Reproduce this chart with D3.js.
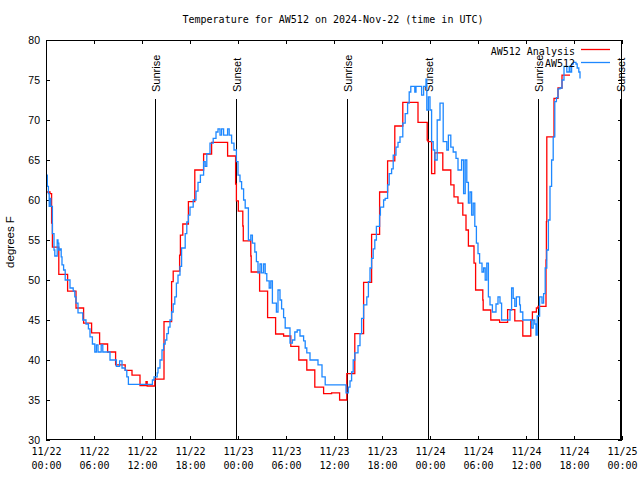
<!DOCTYPE html>
<html>
<head>
<meta charset="utf-8">
<script src="https://cdn.jsdelivr.net/npm/d3@7"></script>
<style>
  html, body { margin: 0; padding: 0; background: #fff; }
  svg { display: block; }
</style>
</head>
<body>
<svg id="chart" width="640" height="480"></svg>
<script>
// ---------- data (hours after 2024-11-22 00:00 UTC, degrees F) ----------
const titleText = "Temperature for AW512 on 2024-Nov-22 (time in UTC)";
const yLabel = "degrees F";
const seriesNames = ["AW512 Analysis", "AW512"];
const yTicks = [30, 35, 40, 45, 50, 55, 60, 65, 70, 75, 80];

const analysisHours = [0,0.5,0.7,0.8,1.6,2.7,3.75,4.7,5.7,6.7,7.7,8.7,9.9,10.75,11.75,12.5,12.65,13.6,14.75,15.7,15.9,16.7,16.8,17.1,17.8,18.6,19.7,20.7,22.7,23.7,23.8,24.04,24.6,24.66,25.6,25.65,26.7,27.7,28.7,29.7,30.6,31.6,32.6,33.6,34.7,35.7,36.7,37.6,38.6,39.7,40.7,41.7,42.7,43.6,44.6,46.5,47.65,47.75,48.2,48.6,49.6,50.6,51.0,51.5,52.1,52.5,52.8,53.5,53.7,54.6,54.65,55.6,56.7,57.7,58.6,59.6,60.6,60.8,61.3,61.5,62.5,62.55,62.6,63.5,64.0,64.5,65.5];
const analysisTemps = [61.0,60.8,57.1,54.1,50.7,48.6,46.5,44.6,43.4,42.0,41.0,39.4,38.7,38.1,36.8,37.3,36.75,37.6,44.8,49.8,51.1,53.1,55.6,57.0,59.8,63.75,65.75,67.2,65.5,62.0,59.9,58.6,56.75,54.9,53.0,51.0,48.6,45.3,43.25,43.0,41.7,40.0,38.75,36.6,35.8,35.9,35.0,38.3,43.3,49.7,55.7,61.0,64.9,69.25,72.2,69.7,67.5,67.3,63.3,65.9,63.75,61.9,60.4,59.6,58.1,56.25,54.25,52.1,48.75,47.5,46.25,45.0,44.7,46.3,44.9,43.0,45.0,46.0,46.5,46.7,52.5,57.3,67.9,72.7,74.0,75.6,75.6];

const stationHours = [0,0.17,0.3,0.4,0.5,0.6,0.8,1.0,1.1,1.4,1.5,1.6,1.75,1.9,2.0,2.2,2.4,3.0,3.4,3.6,3.75,4.0,4.6,5.0,5.3,5.5,5.8,6.1,6.3,6.5,6.9,7.1,8.0,8.8,9.2,9.5,9.9,10.1,10.3,13.3,13.5,13.9,14.0,14.25,14.5,14.7,14.9,15.1,15.3,15.5,15.7,15.9,16.1,16.3,16.5,16.75,16.95,17.4,17.6,17.8,18.0,18.4,18.75,19.0,19.3,19.7,19.9,20.1,20.5,20.9,21.25,21.5,21.75,21.95,22.2,22.7,22.9,23.2,23.5,23.8,24.0,24.25,24.45,24.7,24.9,25.3,25.6,25.8,26.1,26.3,26.5,26.75,26.95,27.2,27.4,27.6,27.9,28.1,28.3,28.8,29.0,29.25,29.45,29.7,29.9,30.5,30.8,31.1,31.4,31.75,32.2,32.4,32.6,33.0,34.0,34.5,34.9,37.5,37.8,38.0,38.2,38.4,38.6,39.0,39.25,39.45,39.7,40.1,40.3,40.5,40.7,40.9,41.1,41.3,41.7,41.8,42.2,42.4,42.7,42.9,43.2,43.4,43.75,44.0,44.25,44.6,44.9,45.2,45.4,45.6,46.1,46.25,46.95,47.2,47.5,47.6,47.8,48.0,48.2,48.4,48.6,48.9,49.25,49.65,50.1,50.3,50.6,50.9,51.25,51.5,51.95,52.2,52.4,52.6,52.8,53.0,53.2,53.4,53.6,53.8,54.0,54.2,54.5,54.7,54.9,55.1,55.3,55.5,55.8,56.25,56.5,56.75,56.95,58.0,58.2,58.4,58.6,58.8,59.2,59.3,59.6,60.7,60.9,61.1,61.25,61.4,61.7,62.0,62.2,62.4,62.6,62.8,63.0,63.2,63.4,63.6,63.8,64.0,64.25,64.5,64.75,65.1,65.4,65.5,65.7,65.9,66.25,66.4,66.6,66.75];
const stationTemps = [63.1,61.7,60.8,59.2,60.2,59.2,55.8,53.75,53.0,55.0,54.6,53.75,53.9,52.9,51.9,51.25,50.0,49.0,48.6,47.9,47.1,45.9,45.0,44.5,43.9,42.9,42.0,41.0,41.9,41.0,41.9,41.0,40.0,39.2,39.9,39.0,38.7,37.9,36.95,37.5,37.9,38.4,39.0,40.0,41.25,42.0,42.5,43.3,44.1,45.0,46.0,47.0,47.9,49.6,50.6,51.7,54.0,55.8,57.25,58.1,59.1,60.0,61.1,62.2,63.1,64.8,64.2,65.8,67.1,67.7,68.5,68.9,68.1,68.9,68.1,68.9,68.1,67.1,66.25,64.8,63.1,62.3,61.4,60.0,59.0,55.0,55.6,54.6,53.5,52.3,50.9,52.0,50.9,52.0,50.8,49.9,49.0,49.9,47.1,46.0,48.75,47.5,46.4,45.3,44.0,42.1,42.5,43.5,43.75,43.0,42.4,41.5,40.9,40.0,39.4,37.9,36.9,35.9,36.6,37.4,38.5,40.0,40.9,41.8,43.3,45.2,46.9,47.9,49.8,51.5,52.7,53.9,55.0,56.7,58.1,59.1,60.0,60.2,61.9,63.3,63.9,65.6,66.6,67.2,67.9,69.6,70.8,72.1,73.5,74.2,73.5,74.2,73.1,74.2,75.1,71.25,72.9,71.25,67.3,66.25,65.0,70.0,72.1,67.3,66.25,68.1,66.6,66.0,65.2,63.75,65.0,60.8,65.0,62.2,59.6,61.0,58.1,59.6,56.7,54.6,53.3,52.1,51.0,51.5,50.0,52.1,47.9,46.9,46.0,47.0,47.9,47.1,45.0,46.25,49.0,47.7,46.7,47.9,46.9,46.0,45.0,44.0,45.0,44.5,43.1,45.5,47.9,47.1,48.3,51.5,53.75,57.5,61.7,65.0,67.9,72.3,72.8,73.9,74.0,75.0,76.7,76.0,76.7,76.0,77.0,77.2,77.0,76.5,76.0,75.2];

const eventLabels = ["Sunrise", "Sunset", "Sunrise", "Sunset", "Sunrise", "Sunset"];
const eventHours = [13.62, 23.75, 37.62, 47.75, 61.5, 71.75];

// ---------- layout ----------
const svg = d3.select("#chart");
const M = { left: 46, right: 622, top: 40, bottom: 440 };
const t0 = Date.UTC(2024, 10, 22, 0, 0);
const toDate = h => new Date(t0 + h * 3600e3);

const x = d3.scaleUtc().domain([toDate(0), toDate(72)]).range([M.left, M.right]);
const y = d3.scaleLinear().domain([30, 80]).range([M.bottom, M.top]);

const mono = "'DejaVu Sans Mono', monospace";
const sans = "'Liberation Sans', Arial, sans-serif";

// title
svg.append("text").attr("x", 333).attr("y", 23).attr("text-anchor", "middle")
  .style("font-family", mono).style("font-size", "10px").text(titleText);

// y label
svg.append("text").attr("transform", "translate(14,242) rotate(-90)")
  .attr("text-anchor", "middle").style("font-family", sans).style("font-size", "11.5px").text(yLabel);

// axes
const xTicks = d3.utcHour.every(6).range(toDate(0), toDate(72.01));
const gx = svg.append("g").attr("transform", `translate(0,${M.bottom})`)
  .call(d3.axisBottom(x).tickValues(xTicks).tickSizeInner(-4).tickSizeOuter(0).tickPadding(15)
    .tickFormat(() => ""));
gx.select(".domain").remove();
gx.selectAll(".tick text").each(function(d) {
  const t = d3.select(this).style("font-family", mono).style("font-size", "10px").attr("fill", "#000");
  t.append("tspan").attr("x", 0).attr("dy", "0").text(d3.utcFormat("%m/%d")(d));
  t.append("tspan").attr("x", 0).attr("dy", "14").text(d3.utcFormat("%H:%M")(d));
});
const gxt = svg.append("g").attr("transform", `translate(0,${M.top})`)
  .call(d3.axisTop(x).tickValues(xTicks).tickSizeInner(-4).tickSizeOuter(0).tickFormat(""));
gxt.select(".domain").remove();

const gy = svg.append("g").attr("transform", `translate(${M.left},0)`)
  .call(d3.axisLeft(y).tickValues(yTicks).tickSizeInner(-4).tickSizeOuter(0).tickPadding(6).tickFormat(d3.format("d")));
gy.select(".domain").remove();
gy.selectAll(".tick text").style("font-family", sans).style("font-size", "10.5px").attr("fill", "#000");
const gyr = svg.append("g").attr("transform", `translate(${M.right},0)`)
  .call(d3.axisRight(y).tickValues(yTicks).tickSizeInner(-4).tickSizeOuter(0).tickFormat(""));
gyr.select(".domain").remove();
svg.selectAll(".tick line").attr("stroke", "#000");

// sunrise / sunset lines
const ev = svg.append("g");
eventHours.forEach((h, i) => {
  const xx = Math.round(x(toDate(h))) + 0.5;
  ev.append("line").attr("x1", xx).attr("x2", xx).attr("y1", 99).attr("y2", M.bottom)
    .attr("stroke", "#000").attr("stroke-width", 1);
  ev.append("text").attr("transform", `translate(${xx + 4},92) rotate(-90)`)
    .attr("text-anchor", "start").style("font-family", sans).style("font-size", "11px").text(eventLabels[i]);
});

// series
const line = d3.line().x(d => x(toDate(d[0]))).y(d => y(d[1])).curve(d3.curveStepAfter);
const red = d3.zip(analysisHours, analysisTemps);
const blue = d3.zip(stationHours, stationTemps);
svg.append("path").datum(red).attr("d", line).attr("fill", "none").attr("stroke", "#ff0000").attr("stroke-width", 1.3);
svg.append("path").datum(blue).attr("d", line).attr("fill", "none").attr("stroke", "#1e88ff").attr("stroke-width", 1.3);

// border
svg.append("rect").attr("x", M.left + 0.5).attr("y", M.top + 0.5)
  .attr("width", M.right - M.left - 1).attr("height", M.bottom - M.top - 1)
  .attr("fill", "none").attr("stroke", "#000").attr("stroke-width", 1);

// legend
const leg = svg.append("g");
const legColors = ["#ff0000", "#1e88ff"];
const legLineY = [49, 62];
const legTextY = [54.5, 66.5];
seriesNames.forEach((n, i) => {
  leg.append("text").attr("x", 575).attr("y", legTextY[i]).attr("text-anchor", "end")
    .style("font-family", mono).style("font-size", "10px").text(n);
  leg.append("line").attr("x1", 581).attr("x2", 610).attr("y1", legLineY[i] + 0.5).attr("y2", legLineY[i] + 0.5)
    .attr("stroke", legColors[i]).attr("stroke-width", 1.3);
});
</script>
</body>
</html>
